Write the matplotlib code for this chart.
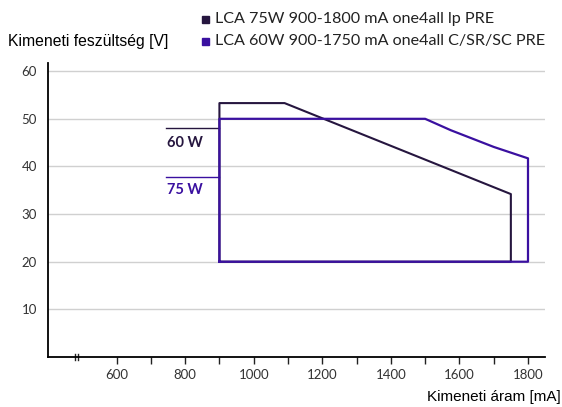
import matplotlib.pyplot as plt
from matplotlib.patches import Rectangle

# data
dark_current = [900, 900, 1090, 1750, 1750, 900]
dark_voltage = [20, 53.3, 53.3, 34.2, 20, 20]

purple_current = [900, 900, 1500, 1525, 1550, 1575, 1600, 1625, 1650, 1675,
                  1700, 1725, 1750, 1775, 1800, 1800, 900]
purple_voltage = [20, 50, 50, 49.2, 48.4, 47.6, 46.9, 46.2, 45.5, 44.8,
                  44.1, 43.5, 42.9, 42.3, 41.7, 20, 20]

series_names = ['LCA 75W 900-1800 mA one4all lp PRE',
                'LCA 60W 900-1750 mA one4all C/SR/SC PRE']
y_ticks = [10, 20, 30, 40, 50, 60]
x_labels = [600, 800, 1000, 1200, 1400, 1600, 1800]
x_minor = [700, 900, 1100, 1300, 1500, 1700]

dark = '#26163f'
purple = '#3a10a0'
tick_font = 'Lato'

fig = plt.figure(figsize=(5.62, 4.07), dpi=100)
ax = fig.add_axes([0.0854, 0.1229, 0.8846, 0.7221])

for y in y_ticks:
    ax.axhline(y, color='#d0d0d0', lw=1, zorder=0)

ax.plot(dark_current, dark_voltage, color=dark, lw=1.5, zorder=2)
ax.plot(purple_current, purple_voltage, color=purple, lw=1.6, zorder=3)

# power labels on the left
ax.plot([745, 900], [48.1, 48.1], color=dark, lw=1, zorder=2)
ax.text(748, 44.9, '60 W', color=dark, fontsize=10.5, fontweight='bold',
        family=tick_font, va='center', ha='left')
ax.plot([745, 900], [37.8, 37.8], color=purple, lw=1, zorder=2)
ax.text(748, 35.1, '75 W', color=purple, fontsize=10.5, fontweight='bold',
        family=tick_font, va='center', ha='left')

ax.set_xlim(400, 1850)
ax.set_ylim(0, 61.7)

for s in ['top', 'right']:
    ax.spines[s].set_visible(False)
ax.spines['left'].set_linewidth(1.3)
ax.spines['bottom'].set_linewidth(1.3)

ax.set_yticks(y_ticks)
ax.set_yticklabels([str(v) for v in y_ticks], family=tick_font, fontsize=9.5, color='#333333')
ax.tick_params(axis='y', length=0, pad=8)

ax.set_xticks(x_labels)
ax.set_xticklabels([str(v) for v in x_labels], family=tick_font, fontsize=9.5, color='#333333')
ax.set_xticks(x_minor, minor=True)
ax.tick_params(axis='x', which='both', length=5, width=1, direction='out', pad=4, color='#222222')

# axis break marks
ax.plot([478, 478], [-0.7, 0.7], color='#222222', lw=1, clip_on=False)
ax.plot([487, 487], [-0.7, 0.7], color='#222222', lw=1, clip_on=False)

fig.text(0.014, 0.899, 'Kimeneti feszültség [V]', family='Liberation Sans',
         fontsize=11.3, va='center', ha='left')
fig.text(0.997, 0.025, 'Kimeneti áram [mA]', family='Liberation Sans',
         fontsize=11, va='center', ha='right')

# legend
for i, (name, col) in enumerate(zip(series_names, [dark, purple])):
    yc = 1 - (19 + 22 * i) / 407
    fig.patches.append(Rectangle((202 / 562, yc - 3.5 / 407), 7 / 562, 7 / 407,
                                 transform=fig.transFigure, color=col))
    fig.text(215 / 562, yc, name, family=tick_font, fontsize=11.6,
             va='center', ha='left', color='#222222')

fig.savefig('out.png', dpi=100)
